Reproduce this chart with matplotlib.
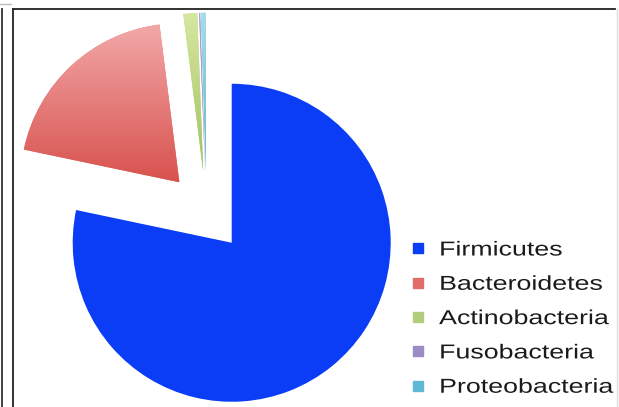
import numpy as np
import matplotlib.pyplot as plt
import matplotlib.patheffects as pe
from matplotlib.lines import Line2D
from matplotlib.colors import LinearSegmentedColormap
from matplotlib.transforms import Affine2D

# Data (percent of reads per phylum)
phyla = ['Firmicutes', 'Bacteroidetes', 'Actinobacteria', 'Fusobacteria', 'Proteobacteria']
share = [78.3, 19.7, 1.4, 0.1, 0.5]

# Colours: base, plus light/dark ends for the slice shading
colors = ['#0a3df5', '#e07a76', '#bcd484', '#9d8bc4', '#7ec6dc']
shades = [None, ('#f2a8a8', '#d8524e'), ('#d6e8a0', '#a2c060'),
          ('#b5a3d6', '#8064a2'), ('#a8dce9', '#5ab4cf')]
legend_colors = ['#0a3df5', '#e06c6c', '#b3cc7c', '#9d8bc4', '#5fb8d6']


class Stretch(pe.AbstractPathEffect):
    """Widen text horizontally (the original text is rather wide)."""
    def __init__(self, sx):
        super().__init__()
        self.sx = sx

    def draw_path(self, renderer, gc, tpath, affine, rgbFace=None):
        renderer.draw_path(gc, tpath, Affine2D().scale(self.sx, 1) + affine, rgbFace)


W, H = 619, 407
fig = plt.figure(figsize=(W / 100, H / 100), dpi=100)
ax = fig.add_axes([0, 0, 1, 1])

R = 159
wedges, _ = ax.pie(share, radius=R, center=(206.5, H - 211.7), startangle=90,
                   counterclock=False, explode=[40] * len(share), colors=colors,
                   frame=True)

# vertical shading on the smaller slices
for w, sh in zip(wedges, shades):
    if sh is None:
        continue
    verts = w.get_patch_transform().transform(w.get_path().vertices)
    x0, y0 = verts.min(axis=0)
    x1, y1 = verts.max(axis=0)
    cmap = LinearSegmentedColormap.from_list('shade', [sh[1], sh[0]])
    grad = np.linspace(0, 1, 256).reshape(-1, 1)
    im = ax.imshow(grad, extent=(x0, x1, y0, y1), origin='lower', cmap=cmap,
                   aspect='auto', interpolation='bilinear', zorder=w.get_zorder() + 0.1)
    im.set_clip_path(w)

# picture frame
ax.plot([13, 13], [-5, H - 9], color='#222222', lw=1.3)
ax.plot([13, 615], [H - 9, H - 9], color='#222222', lw=1.3)
ax.plot([617, 617], [-5, H - 9], color='#dddddd', lw=1)
ax.plot([2, 2], [-5, H - 9], color='#333333', lw=1.3)
ax.plot([0, 11], [H - 4, H - 4], color='#bbbbbb', lw=1)

ax.set_xlim(0, W)
ax.set_ylim(0, H)
ax.set_aspect('auto')
ax.axis('off')

handles = [Line2D([], [], ls='none', marker='s', ms=7, mfc=c, mec=c) for c in legend_colors]
leg = ax.legend(handles, phyla, loc='upper left',
                bbox_to_anchor=(413.3 / W, 1 - 240.5 / H), bbox_transform=fig.transFigure,
                frameon=False, borderpad=0, borderaxespad=0, handlelength=0.5,
                handletextpad=0.78, labelspacing=0.76,
                prop={'family': 'Liberation Sans', 'size': 14.5})
for t in leg.get_texts():
    t.set_color('#1a1a1a')
    t.set_path_effects([Stretch(1.33)])

fig.savefig('out.png', dpi=100)
